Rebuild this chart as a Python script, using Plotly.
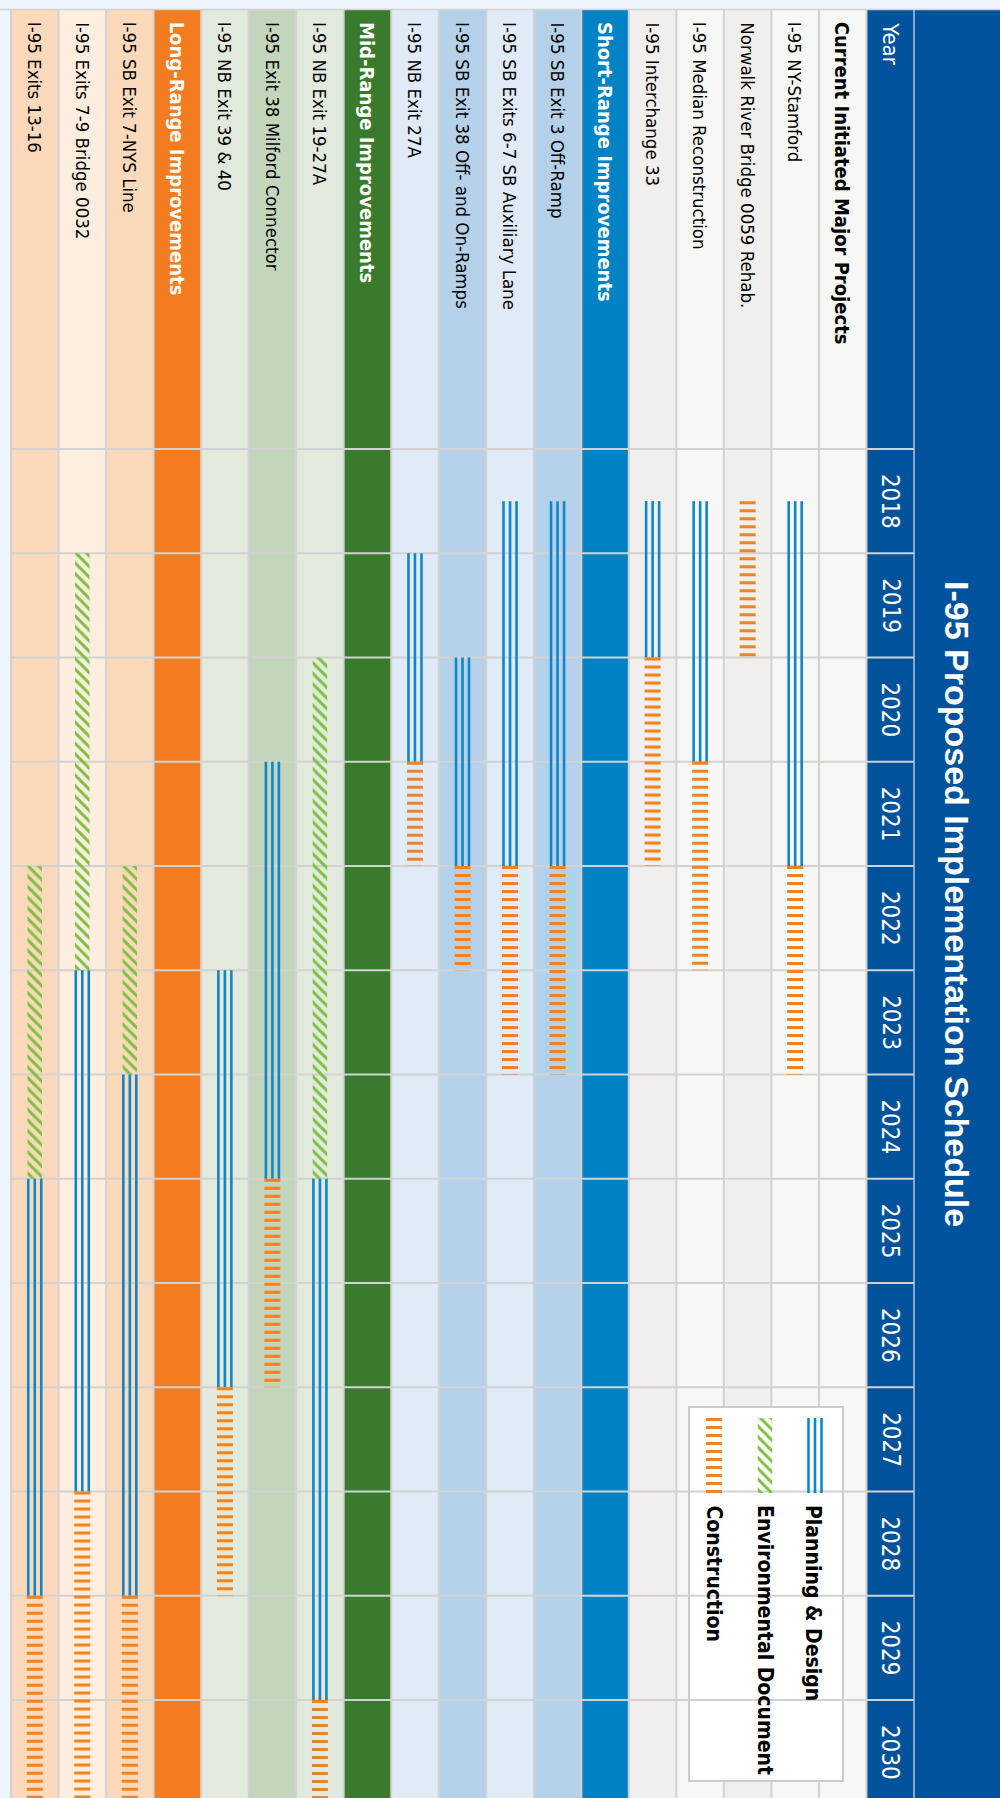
import plotly.graph_objects as go

W, H = 1000, 1798

# ---------------- data ----------------
row_labels = [
    "Current Initiated Major Projects",
    "I-95 NY-Stamford",
    "Norwalk River Bridge 0059 Rehab.",
    "I-95 Median Reconstruction",
    "I-95 Interchange 33",
    "Short-Range Improvements",
    "I-95 SB Exit 3 Off-Ramp",
    "I-95 SB Exits 6-7 SB Auxiliary Lane",
    "I-95 SB Exit 38 Off- and On-Ramps",
    "I-95 NB Exit 27A",
    "Mid-Range Improvements",
    "I-95 NB Exit 19-27A",
    "I-95 Exit 38 Milford Connector",
    "I-95 NB Exit 39 & 40",
    "Long-Range Improvements",
    "I-95 SB Exit 7-NYS Line",
    "I-95 Exits 7-9 Bridge 0032",
    "I-95 Exits 13-16",
]
row_kind = ["head0", "a", "b", "a", "b",
            "head1", "c", "d", "c", "d",
            "head2", "e", "f", "e",
            "head3", "g", "h", "g"]

years = list(range(2018, 2031))
year_labels = [str(y) for y in years]

plan_project = ["I-95 NY-Stamford", "I-95 Median Reconstruction", "I-95 Interchange 33",
                "I-95 SB Exit 3 Off-Ramp", "I-95 SB Exits 6-7 SB Auxiliary Lane",
                "I-95 SB Exit 38 Off- and On-Ramps", "I-95 NB Exit 27A",
                "I-95 NB Exit 19-27A", "I-95 Exit 38 Milford Connector", "I-95 NB Exit 39 & 40",
                "I-95 SB Exit 7-NYS Line", "I-95 Exits 7-9 Bridge 0032", "I-95 Exits 13-16"]
plan_start = [2018.5, 2018.5, 2018.5, 2018.5, 2018.5, 2020, 2019, 2025, 2021, 2023, 2024, 2023, 2025]
plan_end = [2022, 2021, 2020, 2022, 2022, 2022, 2021, 2030, 2025, 2027, 2029, 2028, 2029]

env_project = ["I-95 NB Exit 19-27A", "I-95 SB Exit 7-NYS Line",
               "I-95 Exits 7-9 Bridge 0032", "I-95 Exits 13-16"]
env_start = [2020, 2022, 2019, 2022]
env_end = [2025, 2024, 2023, 2025]

cons_project = ["I-95 NY-Stamford", "Norwalk River Bridge 0059 Rehab.", "I-95 Median Reconstruction",
                "I-95 Interchange 33", "I-95 SB Exit 3 Off-Ramp", "I-95 SB Exits 6-7 SB Auxiliary Lane",
                "I-95 SB Exit 38 Off- and On-Ramps", "I-95 NB Exit 27A", "I-95 NB Exit 19-27A",
                "I-95 Exit 38 Milford Connector", "I-95 NB Exit 39 & 40", "I-95 SB Exit 7-NYS Line",
                "I-95 Exits 7-9 Bridge 0032", "I-95 Exits 13-16"]
cons_start = [2022, 2018.5, 2021, 2020, 2022, 2022, 2022, 2021, 2030, 2025, 2027, 2029, 2028, 2029]
cons_end = [2024, 2020, 2023, 2022, 2024, 2024, 2023, 2022, 2031, 2027, 2029, 2031, 2031, 2031]

legend_labels = ["Planning & Design", "Environmental Document", "Construction"]
title_text = "I-95 Proposed Implementation Schedule"
year_header = "Year"

# ---------------- styles / geometry ----------------
DARK_BLUE = "#00529c"
BG = "#eef5fd"
GRID = "#d2d2d2"
C_PLAN = "#0f86c9"
C_ENV = "#7cc142"
C_CONS = "#f5811f"
fills = {"head0": "#f7f7f5", "a": "#f7f7f5", "b": "#f0efed",
         "head1": "#0082c4", "c": "#b5d1ea", "d": "#e0ebf7",
         "head2": "#3a7a2c", "e": "#e2eadd", "f": "#c3d6bb",
         "head3": "#f47c20", "g": "#fdd9bb", "h": "#feeee0"}
NARROW = "Liberation Sans Narrow, DejaVu Sans Condensed, Arial Narrow, sans-serif"
FS_ROW, FS_HEAD, FS_YEAR, FS_LEG, FS_TITLE = 18.5, 20, 24, 21, 34

GRID_L, GRID_R, TOP = 11, 914, 10
NCOL = len(row_labels) + 1
ROW_W = (GRID_R - GRID_L) / NCOL
Y0, YEAR_H = 449, 104.25


def kx(p):
    return (GRID_R - p) / ROW_W - 0.5


def ty(p):
    return years[0] + (p - Y0) / YEAR_H


def py(p):
    return 1 - p / H


row_k = {lab: i + 1 for i, lab in enumerate(row_labels)}
OFF = 6.5 / ROW_W
BAR_W_ENV = 14.5 / ROW_W

fig = go.Figure()

shapes = []
# row backgrounds
shapes.append(dict(type="rect", xref="x", yref="paper", x0=-0.5, x1=0.5, y0=0, y1=py(TOP),
                   fillcolor=DARK_BLUE, line_width=0, layer="below"))
for lab, kind in zip(row_labels, row_kind):
    k = row_k[lab]
    shapes.append(dict(type="rect", xref="x", yref="paper", x0=k - 0.5, x1=k + 0.5, y0=0, y1=py(TOP),
                       fillcolor=fills[kind], line_width=0, layer="below"))
# title band
shapes.append(dict(type="rect", xref="paper", yref="paper", x0=GRID_R / W, x1=1, y0=0, y1=py(TOP),
                   fillcolor=DARK_BLUE, line_width=0, layer="below"))
# vertical grid lines
for k in range(NCOL):
    shapes.append(dict(type="line", xref="x", yref="paper", x0=k + 0.5, x1=k + 0.5, y0=0, y1=py(TOP),
                       line=dict(color=GRID, width=2), layer="below"))
shapes.append(dict(type="line", xref="x", yref="paper", x0=-0.5, x1=-0.5, y0=0, y1=py(TOP),
                   line=dict(color="#b8c4d6", width=1.5), layer="below"))
# horizontal grid lines at each year start
for y in years:
    shapes.append(dict(type="line", xref="x", yref="y", x0=NCOL - 0.5, x1=-0.5, y0=y, y1=y,
                       line=dict(color=GRID, width=2), layer="below"))
# top border
shapes.append(dict(type="line", xref="paper", yref="paper", x0=0, x1=1, y0=py(TOP - 0.5), y1=py(TOP - 0.5),
                   line=dict(color=GRID, width=1.5), layer="below"))
# legend box
shapes.append(dict(type="rect", xref="paper", yref="paper", x0=689 / W, x1=843 / W, y0=py(1781), y1=py(1407),
                   fillcolor="white", line=dict(color="#cccccc", width=2), layer="below"))


def plan_traces(ks, starts, ends):
    out = []
    for o in (-OFF, 0, OFF):
        xs, ys = [], []
        for k, s, e in zip(ks, starts, ends):
            xs += [k + o, k + o, None]
            ys += [s, e, None]
        out.append(go.Scatter(x=xs, y=ys, mode="lines", line=dict(color=C_PLAN, width=2.6),
                              hoverinfo="skip", showlegend=False))
    return out


def cons_trace(ks, starts, ends):
    xs, ys = [], []
    for k, s, e in zip(ks, starts, ends):
        xs += [k, k, None]
        ys += [s, e, None]
    return go.Scatter(x=xs, y=ys, mode="lines", line=dict(color=C_CONS, width=16, dash="3px,5px"),
                      hoverinfo="skip", showlegend=False)


def env_trace(ks, starts, ends):
    return go.Bar(x=ks, y=[e - s for s, e in zip(starts, ends)], base=starts, width=BAR_W_ENV,
                  marker=dict(color=C_ENV, line_width=0,
                              pattern=dict(shape="\\", fgcolor=C_ENV, bgcolor="rgba(0,0,0,0)",
                                           size=7.5, solidity=0.4, fillmode="replace")),
                  hoverinfo="skip", showlegend=False)


for t in plan_traces([row_k[p] for p in plan_project], plan_start, plan_end):
    fig.add_trace(t)
fig.add_trace(env_trace([row_k[p] for p in env_project], env_start, env_end))
fig.add_trace(cons_trace([row_k[p] for p in cons_project], cons_start, cons_end))

# legend samples
LEG_TOP, LEG_BOT = 1418, 1493
for t in plan_traces([kx(815)], [ty(LEG_TOP)], [ty(LEG_BOT)]):
    fig.add_trace(t)
fig.add_trace(env_trace([kx(765)], [ty(LEG_TOP)], [ty(LEG_BOT)]))
fig.add_trace(cons_trace([kx(714)], [ty(LEG_TOP)], [ty(LEG_BOT)]))

ann = []
for lab, kind in zip(row_labels, row_kind):
    head = kind.startswith("head")
    color = "black" if kind in ("head0",) or not head else "white"
    ann.append(dict(xref="x", yref="paper", x=row_k[lab], y=py(20), text=lab, textangle=90,
                    xanchor="center", yanchor="top", showarrow=False,
                    font=dict(family=NARROW, size=FS_HEAD if head else FS_ROW, color=color,
                              weight=700 if head else 400)))
ann.append(dict(xref="x", yref="paper", x=0, y=py(20), text=year_header, textangle=90,
                xanchor="center", yanchor="top", showarrow=False,
                font=dict(family=NARROW, size=FS_YEAR - 2, color="white")))
for y, lab in zip(years, year_labels):
    ann.append(dict(xref="x", yref="y", x=0, y=y + 0.5, text=lab, textangle=90,
                    xanchor="center", yanchor="middle", showarrow=False,
                    font=dict(family=NARROW, size=FS_YEAR, color="white")))
ann.append(dict(xref="paper", yref="paper", x=957 / W, y=py(904), text=title_text, textangle=90,
                xanchor="center", yanchor="middle", showarrow=False,
                font=dict(family="Liberation Sans, Arial, sans-serif", size=FS_TITLE, color="white", weight=700)))
for lab, px in zip(legend_labels, [813, 765, 714]):
    ann.append(dict(xref="paper", yref="paper", x=px / W, y=py(1503), text=lab, textangle=90,
                    xanchor="center", yanchor="top", showarrow=False,
                    font=dict(family=NARROW, size=FS_LEG, color="black", weight=700)))

fig.update_layout(
    width=W, height=H, margin=dict(l=0, r=0, t=0, b=0, pad=0),
    paper_bgcolor=BG, plot_bgcolor=BG, showlegend=False, barmode="overlay",
    xaxis=dict(range=[kx(0), kx(W)], visible=False, fixedrange=True),
    yaxis=dict(range=[ty(H), ty(0)], visible=False, fixedrange=True),
    shapes=shapes, annotations=ann,
)

fig.write_html("out.html")
